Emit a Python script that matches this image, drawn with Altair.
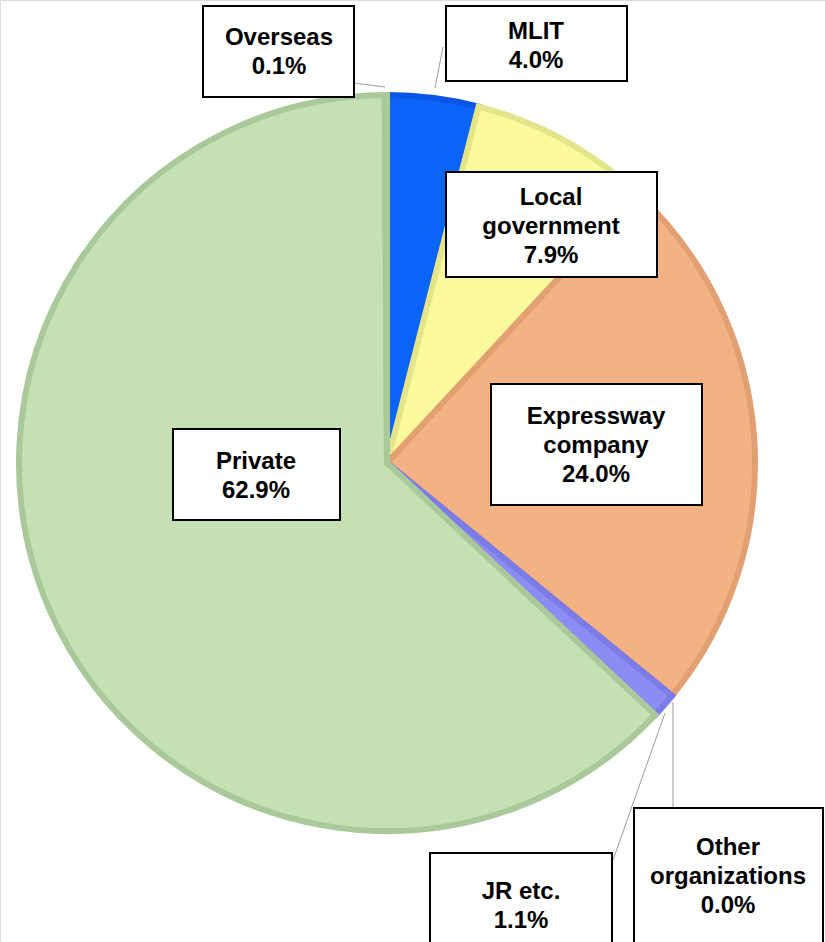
import altair as alt
import pandas as pd

# ---- data ----
categories = ["MLIT", "Local government", "Expressway company", "Other organizations",
              "JR etc.", "Private", "Overseas"]
label_names = ["MLIT", "Local\ngovernment", "Expressway\ncompany", "Other\norganizations",
               "JR etc.", "Private", "Overseas"]
shares = [4.0, 7.9, 24.0, 0.0, 1.1, 62.9, 0.1]

# ---- styles ----
fill_colors = ["#0a64fa", "#fafa9c", "#f4b183", "#8c8cf4", "#8c8cf4", "#c5e0b4", "#c5e0b4"]
border_colors = ["#0a55e6", "#e4e48a", "#e2a072", "#7c7ce6", "#7c7ce6", "#a9c99a", "#a9c99a"]

# ---- layout (pixel positions of label boxes, first text line, leader lines) ----
box_x1 = [446, 446, 491, 634, 430, 173, 203]
box_x2 = [627, 657, 702, 823, 612, 340, 354]
box_y1 = [6, 172, 384, 808, 853, 429, 6]
box_y2 = [81, 277, 505, 946, 946, 520, 97]
text_x = [536, 551, 596, 728, 521, 256, 279]
text_y = [32, 198, 417, 848, 892, 462, 38]
lead_x1 = [443, None, None, 673, 665, None, 354]
lead_y1 = [47, None, None, 702, 713, None, 83]
lead_x2 = [435, None, None, 673, 613, None, 385]
lead_y2 = [88, None, None, 808, 860, None, 87]

W, H = 825, 942
CX, CY = 387, 463

pie_df = pd.DataFrame({"cat": categories, "share": shares, "idx": list(range(len(categories)))})
lab_df = pd.DataFrame({
    "cat": categories,
    "label": [f"{n}\n{v:.1f}%" for n, v in zip(label_names, shares)],
    "bx1": box_x1, "bx2": box_x2, "by1": box_y1, "by2": box_y2,
    "tx": text_x, "ty": text_y,
})
lead_df = pd.DataFrame({"x1": lead_x1, "y1": lead_y1, "x2": lead_x2, "y2": lead_y2}).dropna()

xs = alt.Scale(domain=[0, W], range=[0, W], nice=False, zero=False)
ys = alt.Scale(domain=[0, H], range=[0, H], nice=False, zero=False)

pie = alt.Chart(pie_df).mark_arc(radius=368, strokeWidth=6).encode(
    x=alt.value(CX), y=alt.value(CY),
    theta=alt.Theta("share:Q", stack=True),
    order=alt.Order("idx:Q"),
    color=alt.Color("cat:N", scale=alt.Scale(domain=categories, range=fill_colors), legend=None),
    stroke=alt.Stroke("cat:N", scale=alt.Scale(domain=categories, range=border_colors), legend=None),
)

leaders = alt.Chart(lead_df).mark_rule(color="#9a9a9a", strokeWidth=1).encode(
    x=alt.X("x1:Q", scale=xs, axis=None), y=alt.Y("y1:Q", scale=ys, axis=None),
    x2="x2:Q", y2="y2:Q",
)

boxes = alt.Chart(lab_df).mark_rect(fill="white", stroke="black", strokeWidth=2).encode(
    x=alt.X("bx1:Q", scale=xs, axis=None), x2="bx2:Q",
    y=alt.Y("by1:Q", scale=ys, axis=None), y2="by2:Q",
)

texts = alt.Chart(lab_df).mark_text(
    font="Liberation Sans", fontWeight="bold", fontSize=24, lineBreak="\n",
    lineHeight=29, align="center", baseline="middle", color="black",
).encode(
    x=alt.X("tx:Q", scale=xs, axis=None), y=alt.Y("ty:Q", scale=ys, axis=None),
    text="label:N",
)

chart = alt.layer(pie, leaders, boxes, texts).properties(
    width=W, height=H, autosize=alt.AutoSizeParams(type="none"), padding=0,
).configure_view(stroke=None).configure(background="white")

chart.save("out.html", embed_options={"renderer": "svg", "actions": False})
